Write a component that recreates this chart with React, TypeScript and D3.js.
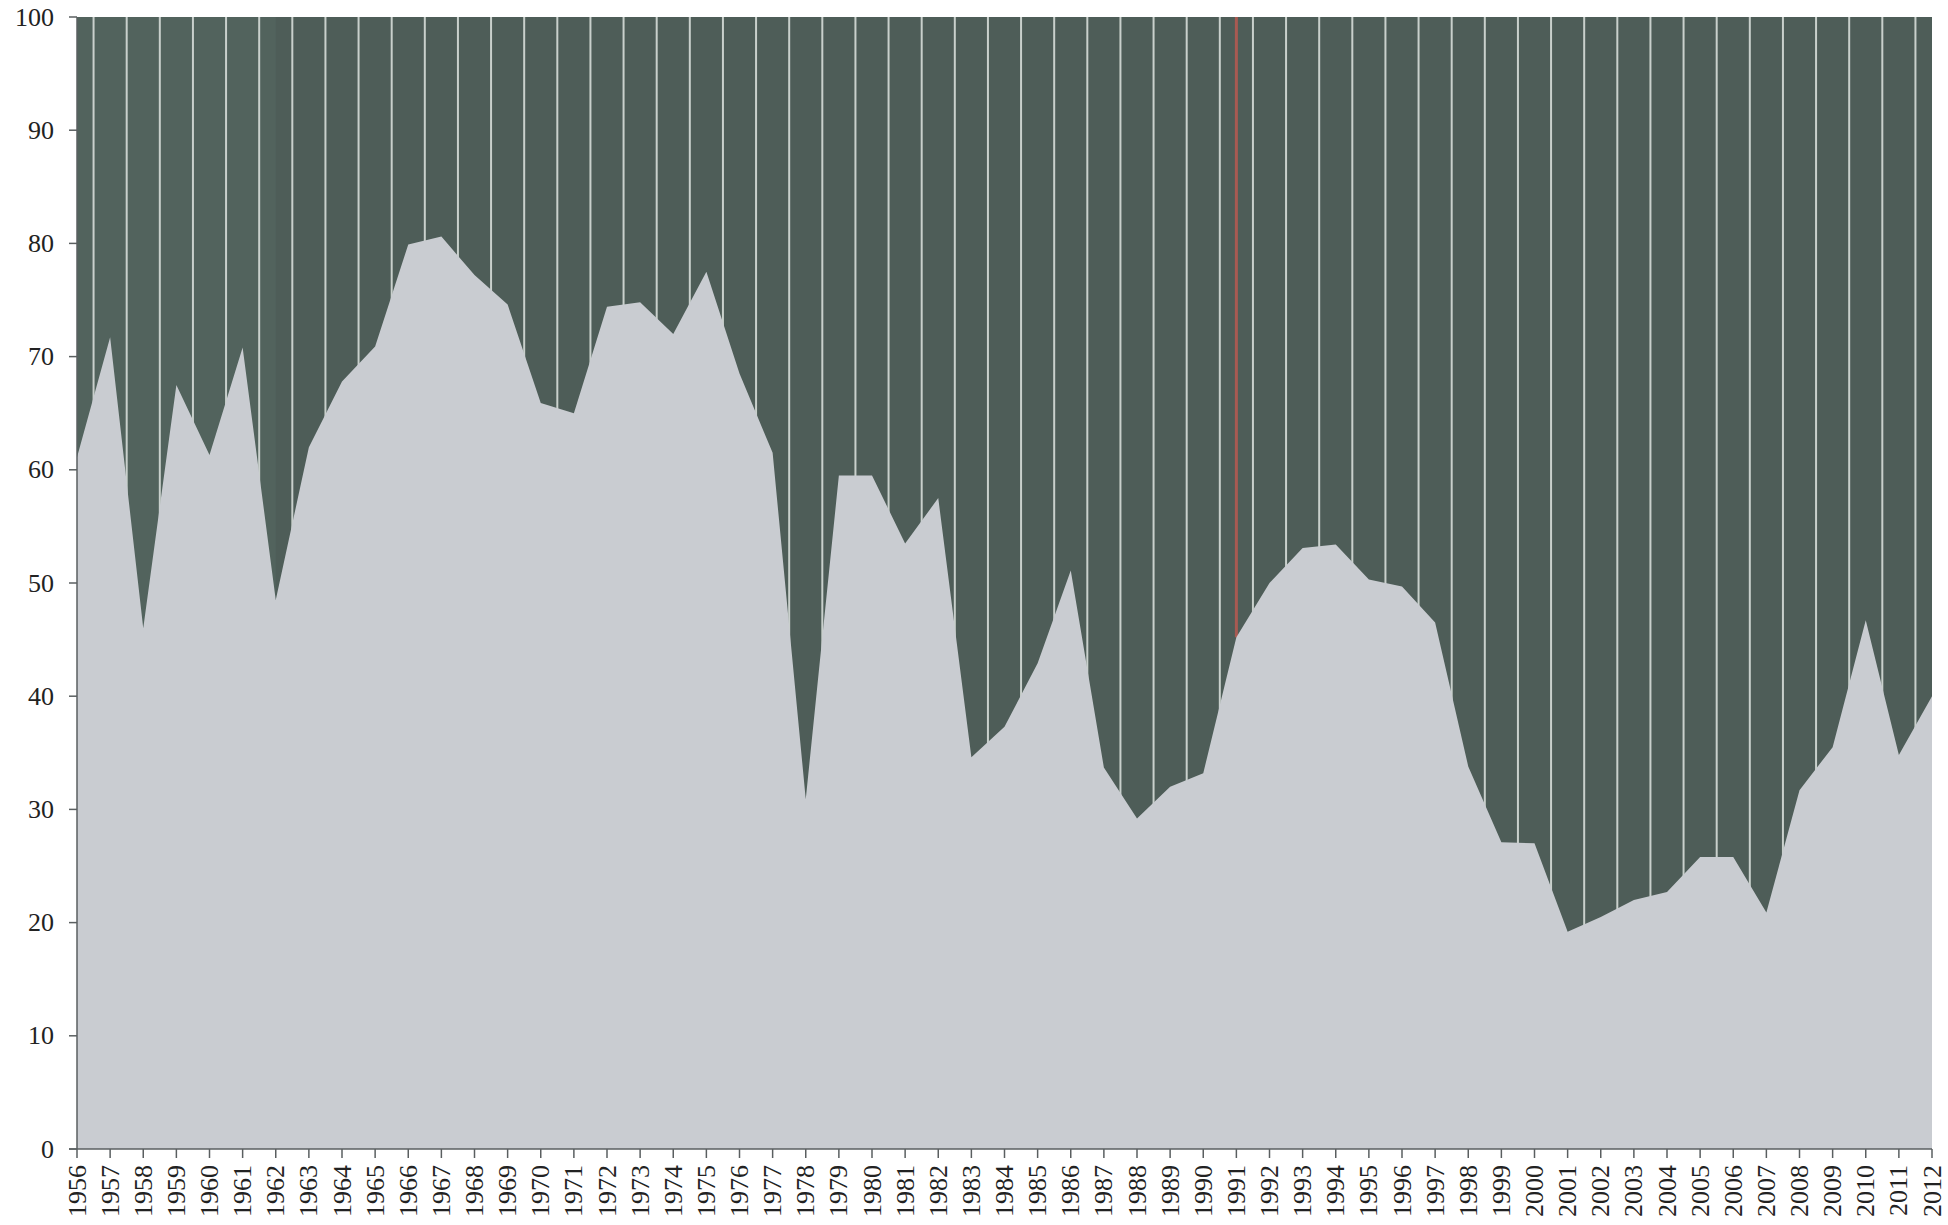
import React from 'react';
import * as d3 from 'd3';

// years on the x axis
const years: number[] = d3.range(1956, 2013);

// share (%), one value per year 1956..2012
const shares: number[] = [
  61.1, 71.7, 46.0, 67.5, 61.3, 70.8, 48.5, 62.0, 67.8, 70.9,
  79.9, 80.6, 77.2, 74.6, 65.9, 65.0, 74.4, 74.8, 72.0, 77.5,
  68.5, 61.5, 30.9, 59.5, 59.5, 53.5, 57.5, 34.6, 37.3, 42.9,
  51.1, 33.7, 29.2, 32.0, 33.2, 45.2, 50.0, 53.1, 53.4, 50.3,
  49.7, 46.5, 33.8, 27.1, 27.0, 19.2, 20.5, 22.0, 22.7, 25.8,
  25.8, 20.9, 31.7, 35.5, 46.7, 34.8, 40.0,
];

const yTicks: number[] = [0, 10, 20, 30, 40, 50, 60, 70, 80, 90, 100];
const markerYear = 1991;

const W = 1948;
const H = 1225;
const margin = { top: 17, right: 16, bottom: 76, left: 77 };

export default function App() {
  const x = d3
    .scaleLinear()
    .domain([1956, 2012])
    .range([margin.left, W - margin.right]);
  const y = d3
    .scaleLinear()
    .domain([0, 100])
    .range([H - margin.bottom, margin.top]);

  const data = years.map((yr, i) => ({ yr, v: shares[i] }));

  const area = d3
    .area<{ yr: number; v: number }>()
    .x((d) => x(d.yr))
    .y0(y(0))
    .y1((d) => y(d.v))
    .curve(d3.curveLinear);

  // pinstripes sit halfway between the years
  const stripes = years.slice(0, -1).map((yr) => yr + 0.5);
  const markerIdx = years.indexOf(markerYear);

  const font = '"Liberation Serif", "DejaVu Serif", serif';
  const axisColor = '#5a5f60';

  return (
    <svg
      width={W}
      height={H}
      style={{ position: 'absolute', left: 0, top: 0, background: '#fff' }}
    >
      {/* dark background of the plot */}
      <rect
        x={x(1956)}
        y={y(100)}
        width={x(2012) - x(1956)}
        height={y(0) - y(100)}
        fill="#4e5d58"
      />
      <rect
        x={x(1956)}
        y={y(100)}
        width={x(1962) - x(1956)}
        height={y(0) - y(100)}
        fill="#52635d"
      />
      {stripes.map((s) => (
        <line
          key={s}
          x1={x(s)}
          x2={x(s)}
          y1={y(100)}
          y2={y(0)}
          stroke="#c9d0cc"
          strokeWidth={2}
        />
      ))}
      <line
        x1={x(markerYear)}
        x2={x(markerYear)}
        y1={y(100)}
        y2={y(shares[markerIdx])}
        stroke="#a85a52"
        strokeWidth={3}
      />

      {/* light area */}
      <path d={area(data) || ''} fill="#c9ccd1" />

      {/* y axis */}
      <line
        x1={x(1956)}
        x2={x(1956)}
        y1={y(0)}
        y2={y(100)}
        stroke={axisColor}
        strokeWidth={1.5}
      />
      {yTicks.map((t) => (
        <g key={t}>
          <line
            x1={x(1956) - 8}
            x2={x(1956)}
            y1={y(t)}
            y2={y(t)}
            stroke={axisColor}
            strokeWidth={1.5}
          />
          <text
            x={x(1956) - 23}
            y={y(t)}
            textAnchor="end"
            dominantBaseline="central"
            fontFamily={font}
            fontSize={26}
            fill="#222"
          >
            {t}
          </text>
        </g>
      ))}

      {/* x axis */}
      <line
        x1={x(1956) - 8}
        x2={x(2012)}
        y1={y(0)}
        y2={y(0)}
        stroke={axisColor}
        strokeWidth={1.5}
      />
      {years.map((yr) => (
        <g key={yr}>
          <line
            x1={x(yr)}
            x2={x(yr)}
            y1={y(0)}
            y2={y(0) + 9}
            stroke={axisColor}
            strokeWidth={1.5}
          />
          <text
            transform={`translate(${x(yr)},${y(0) + 16}) rotate(-90)`}
            textAnchor="end"
            dominantBaseline="central"
            fontFamily={font}
            fontSize={26}
            fill="#222"
          >
            {yr}
          </text>
        </g>
      ))}
    </svg>
  );
}
